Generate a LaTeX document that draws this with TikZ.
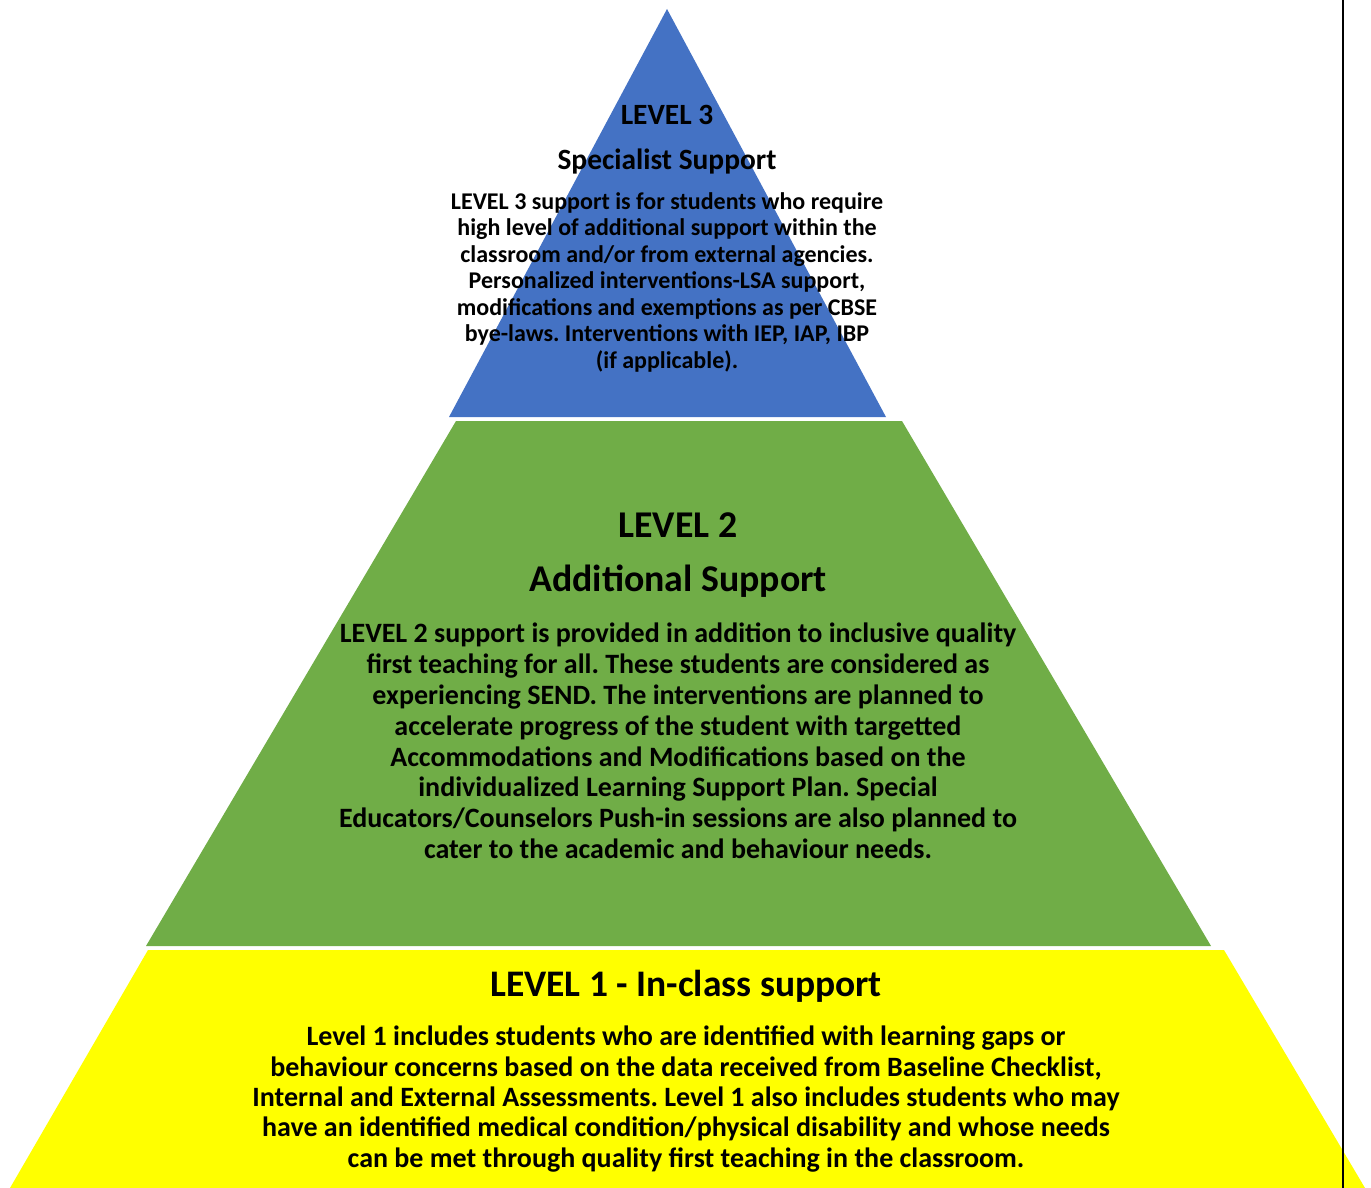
\documentclass[tikz,border=0pt]{standalone}
\usepackage{fontspec}
\setmainfont{Carlito}
\frenchspacing
\tikzset{
  levelhead/.style={inner sep=0pt, align=center, font=\bfseries\fontsize{#1}{#1}\selectfont},
  levelbody/.style 2 args={inner sep=0pt, align=center, font=\bfseries\fontsize{#1}{#2}\selectfont},
}
\definecolor{topblue}{HTML}{4472C4}
\definecolor{midgreen}{HTML}{70AD47}
\definecolor{baseyellow}{HTML}{FFFF00}
\begin{document}
\begin{tikzpicture}[x=1pt, y=-1pt]
    \useasboundingbox (0,0) rectangle (1371,1188);

    % Level 3 - the top triangle
    \fill[topblue] (667,9) -- (886,417) -- (449,417) -- cycle;

    % Level 2 - the middle band
    \fill[midgreen] (456,421) -- (902,421) -- (1211,946) -- (146,946) -- cycle;

    % Level 1 - the base band, cut by the page edge
    \fill[baseyellow] (148,950) -- (1224,950) -- (1365,1188) -- (10,1188) -- cycle;

    % Page margin line on the right
    \draw[line width=2pt] (1343,0) -- (1343,1188);

    % Texts of level 3
    \node[levelhead=29.4] (l3title) at (667,115) {LEVEL 3};
    \node[levelhead=29.4] (l3name) at (667,161) {Specialist Support};
    \node[levelbody={24}{26.5}] (l3text) at (667,282) {LEVEL 3 support is for students who require\\
        high level of additional support within the\\
        classroom and/or from external agencies.\\
        Personalized interventions-LSA support,\\
        modifications and exemptions as per CBSE\\
        bye-laws. Interventions with IEP, IAP, IBP\\
        (if applicable).};

    % Texts of level 2
    \node[levelhead=37.8] (l2title) at (678,525) {LEVEL 2};
    \node[levelhead=37.8] (l2name) at (678,581) {Additional Support};
    \node[levelbody={28}{30.8}] (l2text) at (678,741) {LEVEL 2 support is provided in addition to inclusive quality\\
        first teaching for all. These students are considered as\\
        experiencing SEND. The interventions are planned to\\
        accelerate progress of the student with targetted\\
        Accommodations and Modifications based on the\\
        individualized Learning Support Plan. Special\\
        Educators/Counselors Push-in sessions are also planned to\\
        cater to the academic and behaviour needs.};

    % Texts of level 1
    \node[levelhead=37.5] (l1title) at (686,986) {LEVEL 1 - In-class support};
    \node[levelbody={28}{30.4}] (l1text) at (686,1099) {Level 1 includes students who are identified with learning gaps or\\
        behaviour concerns based on the data received from Baseline Checklist,\\
        Internal and External Assessments. Level 1 also includes students who may\\
        have an identified medical condition/physical disability and whose needs\\
        can be met through quality first teaching in the classroom.};
\end{tikzpicture}
\end{document}
